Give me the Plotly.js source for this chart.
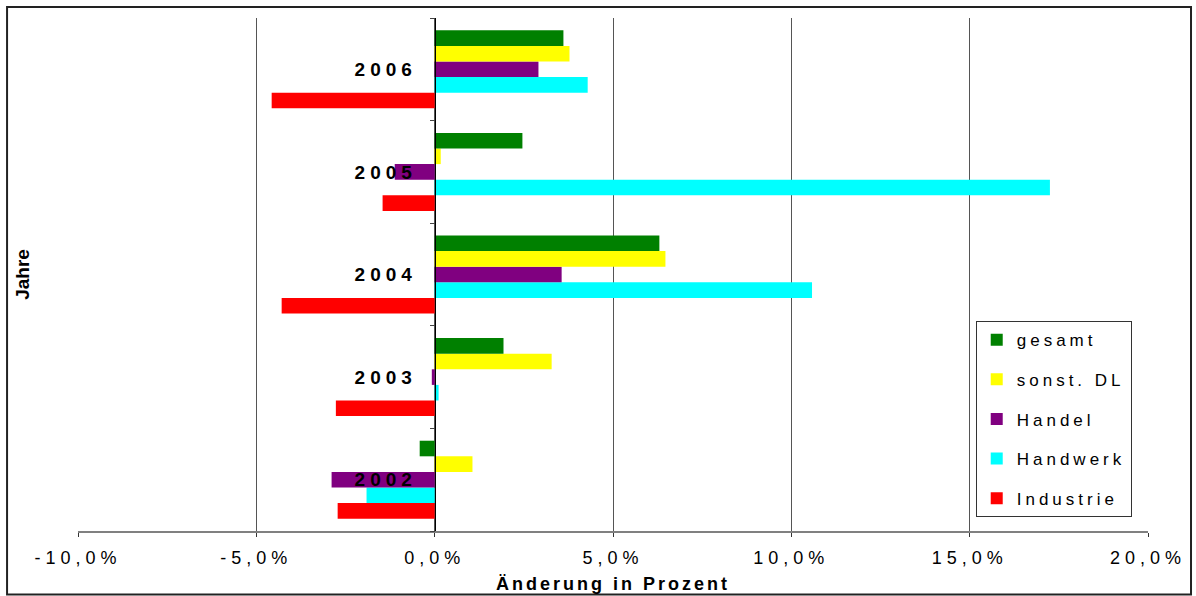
<!DOCTYPE html>
<html>
<head>
<meta charset="utf-8">
<script src="https://cdn.plot.ly/plotly-3.0.1.min.js"></script>
<style>
  html, body { margin: 0; padding: 0; background: #fff; }
  #chart { width: 1196px; height: 596px; }
  .xtick text { letter-spacing: 5px; }
  .ytick text { letter-spacing: 5px; }
  text.legendtext { letter-spacing: 4px; }
  .xtitle { letter-spacing: 3px; }
</style>
</head>
<body>
<div id="chart"></div>
<script>
const years = ['2002', '2003', '2004', '2005', '2006'];
const gesamt    = [-0.42, 1.93, 6.30, 2.46, 3.61];
const sonstDL   = [1.06, 3.28, 6.47, 0.17, 3.78];
const handel    = [-2.89, -0.08, 3.56, -1.12, 2.91];
const handwerk  = [-1.91, 0.11, 10.58, 17.25, 4.29];
const industrie = [-2.72, -2.77, -4.29, -1.46, -4.57];
const xTickVals = [-10, -5, 0, 5, 10, 15, 20];
const xTickText = ['-10,0%', '-5,0%', '0,0%', '5,0%', '10,0%', '15,0%', '20,0%'];

const seriesNames  = ['Industrie', 'Handwerk', 'Handel', 'sonst. DL', 'gesamt'];
const seriesValues = [industrie, handwerk, handel, sonstDL, gesamt];
const seriesColors = ['#FF0000', '#00FFFF', '#800080', '#FFFF00', '#008000'];
const legendRanks  = [5, 4, 3, 2, 1];

const traces = seriesNames.map((name, i) => ({
  type: 'bar',
  orientation: 'h',
  name: name,
  legendgroup: name,
  legendrank: legendRanks[i],
  y: years,
  x: seriesValues[i],
  marker: { color: seriesColors[i], line: { width: 0 } },
  hoverinfo: 'x+y+name'
}));

const layout = {
  width: 1196,
  height: 596,
  paper_bgcolor: '#ffffff',
  plot_bgcolor: '#ffffff',
  font: { family: 'Liberation Sans, Arial, sans-serif', color: '#000000' },
  margin: { l: 78, r: 48, t: 18, b: 65 },
  barmode: 'group',
  bargap: 0.24,
  bargroupgap: 0,
  showlegend: true,
  legend: {
    x: 0.839, xanchor: 'left',
    y: 0.409, yanchor: 'top',
    traceorder: 'grouped',
    tracegroupgap: 14.5,
    bordercolor: '#333333',
    borderwidth: 1,
    bgcolor: '#ffffff',
    font: { size: 17, color: '#000000' },
    itemwidth: 30
  },
  xaxis: {
    range: [-10, 20],
    tickvals: xTickVals,
    ticktext: xTickText,
    showgrid: true,
    gridcolor: '#555555',
    gridwidth: 1,
    zeroline: false,
    showline: true,
    linecolor: '#808080',
    linewidth: 2,
    ticks: 'outside',
    ticklen: 4,
    tickcolor: '#333333',
    ticklabelstandoff: 5,
    tickfont: { size: 18, color: '#000000' },
    title: {
      text: 'Änderung in Prozent',
      font: { size: 18, weight: 'bold', color: '#000000' },
      standoff: 11
    },
    fixedrange: true
  },
  yaxis: {
    type: 'category',
    categoryorder: 'array',
    categoryarray: years,
    anchor: 'free',
    position: 1 / 3,
    showline: true,
    linecolor: '#000000',
    linewidth: 1.5,
    showgrid: false,
    zeroline: false,
    ticks: 'outside',
    tickson: 'boundaries',
    ticklen: 5,
    tickcolor: '#444444',
    ticklabelstandoff: 14,
    tickfont: { size: 19, weight: 'bold', color: '#000000' },
    layer: 'above traces',
    fixedrange: true
  },
  annotations: [{
    text: 'Jahre',
    xref: 'paper', yref: 'paper',
    x: -0.052, y: 0.5,
    xanchor: 'center', yanchor: 'middle',
    textangle: -90,
    showarrow: false,
    font: { size: 19, weight: 'bold', color: '#000000' }
  }],
  shapes: [{
    type: 'rect',
    xref: 'paper', yref: 'paper',
    x0: -0.0663, x1: 1.0402,
    y0: -0.1237, y1: 1.0214,
    line: { color: '#222222', width: 2 },
    fillcolor: 'rgba(0,0,0,0)',
    layer: 'below'
  }]
};

Plotly.newPlot('chart', traces, layout, { displayModeBar: false, staticPlot: true });
</script>
</body>
</html>
